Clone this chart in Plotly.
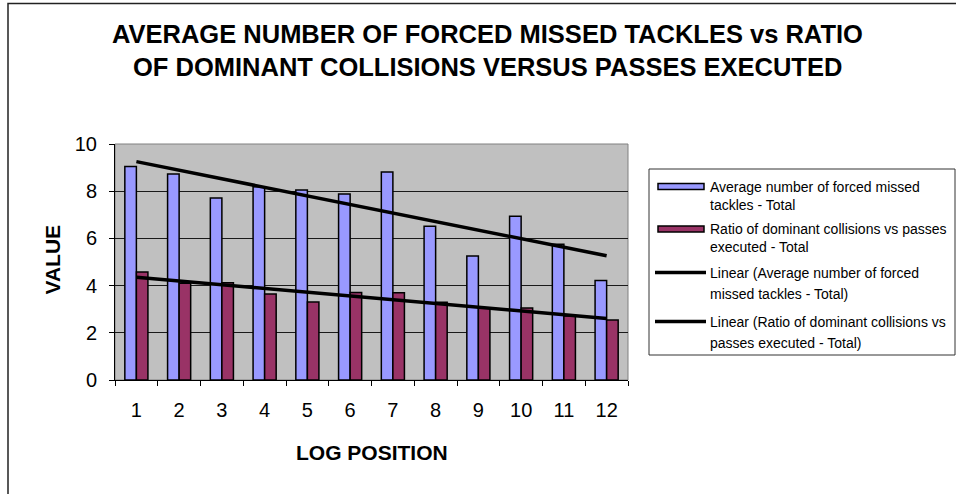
import numpy as np
import plotly.graph_objects as go

# ---- data -------------------------------------------------------------
positions = ["1", "2", "3", "4", "5", "6", "7", "8", "9", "10", "11", "12"]
missed_tackles = [9.05, 8.73, 7.71, 8.19, 8.05, 7.88, 8.81, 6.51, 5.25, 6.94, 5.75, 4.22]
collision_ratio = [4.58, 4.10, 4.12, 3.64, 3.30, 3.71, 3.70, 3.29, 3.06, 3.05, 2.71, 2.54]

series_names = [
    "Average number of forced missed tackles - Total",
    "Ratio of dominant collisions vs passes executed - Total",
]
legend_lines = [
    ["Average number of forced missed", "tackles - Total"],
    ["Ratio of dominant collisions vs passes", "executed - Total"],
    ["Linear (Average number of forced", "missed tackles - Total)"],
    ["Linear (Ratio of dominant collisions vs", "passes executed - Total)"],
]
title_lines = [
    "AVERAGE NUMBER OF FORCED MISSED TACKLES vs RATIO",
    "OF DOMINANT COLLISIONS VERSUS PASSES EXECUTED",
]

BLUE = "#9999FF"
MAROON = "#993366"
FONT = "Liberation Sans, Arial, sans-serif"

# ---- layout geometry (pixels) -----------------------------------------
W, H = 956, 494
L, R, T, B = 115, 628, 144, 380


def px(x):
    return (x - L) / (R - L)


def py(y):
    return (B - y) / (B - T)


# ---- linear trend lines -----------------------------------------------
xnum = np.arange(1, len(positions) + 1)


def trend(values):
    slope, icpt = np.polyfit(xnum, values, 1)
    return [slope * xnum[0] + icpt, slope * xnum[-1] + icpt]


fig = go.Figure()
fig.add_trace(go.Bar(x=positions, y=missed_tackles, name=series_names[0],
                     marker=dict(color=BLUE, line=dict(color="black", width=1.5))))
fig.add_trace(go.Bar(x=positions, y=collision_ratio, name=series_names[1],
                     marker=dict(color=MAROON, line=dict(color="black", width=1.5))))
fig.add_trace(go.Scatter(x=[positions[0], positions[-1]], y=trend(missed_tackles),
                         mode="lines", line=dict(color="black", width=3.5),
                         name="Linear (" + series_names[0] + ")"))
fig.add_trace(go.Scatter(x=[positions[0], positions[-1]], y=trend(collision_ratio),
                         mode="lines", line=dict(color="black", width=3.5),
                         name="Linear (" + series_names[1] + ")"))

shapes = []
annotations = []

# outer chart frame
shapes.append(dict(type="rect", xref="paper", yref="paper",
                   x0=px(8), x1=px(W + 10), y0=py(H + 10), y1=py(3.5),
                   line=dict(color="#222222", width=1.5), fillcolor="rgba(0,0,0,0)",
                   layer="below"))
# plot-area frame (gray top/right edges)
shapes.append(dict(type="rect", xref="paper", yref="paper", x0=0, x1=1, y0=0, y1=1,
                   line=dict(color="#808080", width=1), layer="below"))

# titles
for text, yc in zip(title_lines, [34, 66.5]):
    annotations.append(dict(text="<b>%s</b>" % text, xref="paper", yref="paper",
                            x=px(487), y=py(yc), xanchor="center", yanchor="middle",
                            showarrow=False, font=dict(family=FONT, size=25.5, color="black")))
annotations.append(dict(text="<b>VALUE</b>", xref="paper", yref="paper",
                        x=px(51.5), y=py(260), textangle=-90, xanchor="center",
                        yanchor="middle", showarrow=False,
                        font=dict(family=FONT, size=21, color="black")))
annotations.append(dict(text="<b>LOG POSITION</b>", xref="paper", yref="paper",
                        x=px(372), y=py(452), xanchor="center", yanchor="middle",
                        showarrow=False, font=dict(family=FONT, size=21, color="black")))

# legend box
shapes.append(dict(type="rect", xref="paper", yref="paper",
                   x0=px(649), x1=px(955), y0=py(355), y1=py(169),
                   line=dict(color="#333333", width=1), fillcolor="white"))
entry_y = [186.5, 229, 272.5, 321.5]
line_gap = [18.5, 18, 21, 21.5]
swatch_colors = [BLUE, MAROON, None, None]
for lines, yc, gap, col in zip(legend_lines, entry_y, line_gap, swatch_colors):
    if col is not None:
        shapes.append(dict(type="rect", xref="paper", yref="paper",
                           x0=px(658), x1=px(704), y0=py(yc + 3), y1=py(yc - 3),
                           line=dict(color="black", width=1.5), fillcolor=col))
    else:
        shapes.append(dict(type="line", xref="paper", yref="paper",
                           x0=px(655), x1=px(706), y0=py(yc), y1=py(yc),
                           line=dict(color="black", width=3.5)))
    for k, t in enumerate(lines):
        annotations.append(dict(text=t, xref="paper", yref="paper",
                                x=px(708), y=py(yc + k * gap), xanchor="left",
                                yanchor="middle", showarrow=False,
                                font=dict(family=FONT, size=14, color="black")))

fig.update_layout(
    width=W, height=H,
    margin=dict(l=L, r=W - R, t=T, b=H - B, pad=0),
    paper_bgcolor="white", plot_bgcolor="#C0C0C0",
    barmode="group", bargap=0.46, bargroupgap=0,
    showlegend=False,
    font=dict(family=FONT, size=20, color="black"),
    shapes=shapes, annotations=annotations,
    xaxis=dict(type="category", tickson="boundaries", ticks="outside", ticklen=5,
               tickcolor="black", showline=True, linecolor="black", linewidth=1,
               showgrid=False, ticklabelstandoff=12,
               tickfont=dict(family=FONT, size=20, color="black")),
    yaxis=dict(range=[0, 10], dtick=2, ticks="outside", ticklen=5, tickcolor="black",
               showline=True, linecolor="black", linewidth=1,
               showgrid=True, gridcolor="#1a1a1a", gridwidth=1, zeroline=False,
               ticklabelstandoff=8,
               tickfont=dict(family=FONT, size=20, color="black")),
)

fig.write_html("out.html")
